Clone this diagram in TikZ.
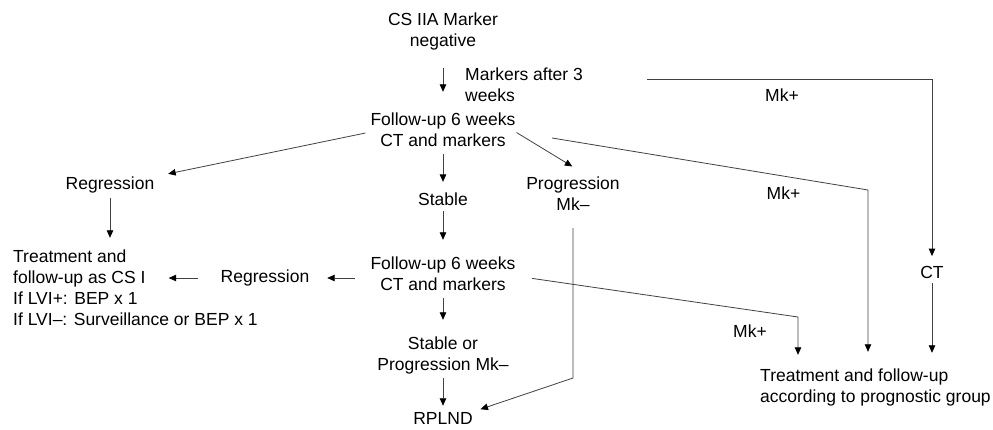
\documentclass[tikz,border=0pt]{standalone}
\usepackage{fontspec}
\setmainfont{Liberation Sans}
\usetikzlibrary{arrows.meta}

\begin{document}
\begin{tikzpicture}[x=1pt, y=-1pt, font=\fontsize{17.5}{21}\selectfont,
		every node/.style={inner sep=0pt},
		line/.style={draw=black!75, line width=0.8pt},
		arr/.style={line, -{Triangle[length=7.5pt, width=6.5pt, color=black]}}]
		
		\useasboundingbox (0,0) rectangle (993,429);
		
		\node (cs) at (443,32) {\begin{tabular}{@{}c@{}} CS IIA Marker \\ negative \end{tabular}};
		\node (mk3) at (465,86.5) [anchor=west] {\begin{tabular}{@{}l@{}} Markers after 3 \\ weeks \end{tabular}};
		\node (fu1) at (443,132) {\begin{tabular}{@{}c@{}} Follow-up 6 weeks \\ CT and markers \end{tabular}};
		\node (reg1) at (110,185) {Regression};
		\node (stable) at (443,199) {Stable};
		\node (prog) at (573,196) {\begin{tabular}{@{}c@{}} Progression \\ Mk– \end{tabular}};
		\node (trt) at (13,269) [anchor=west] {\begin{tabular}{@{}l@{}} Treatment and \\ follow-up as CS I \end{tabular}};
		\node (lvi) at (13,311) [anchor=west] {\begin{tabular}{@{}l@{}} If LVI+: BEP x 1 \\ If LVI–: Surveillance or BEP x 1 \end{tabular}};
		\node (reg2) at (265,278) {Regression};
		\node (fu2) at (443,276) {\begin{tabular}{@{}c@{}} Follow-up 6 weeks \\ CT and markers \end{tabular}};
		\node (sbl) at (443,356) {\begin{tabular}{@{}c@{}} Stable or \\ Progression Mk– \end{tabular}};
		\node (rpl) at (443,418) {RPLND};
		\node (ct) at (932,272) {CT};
		\node (tx) at (760,388) [anchor=west] {\begin{tabular}{@{}l@{}} Treatment and follow-up \\ according to prognostic group \end{tabular}};
		
		\coordinate (c1) at (868,190);
		\coordinate (c2) at (932,79);
		\coordinate (c3) at (573,378);
		\coordinate (c4) at (798,317);
		
		\draw[arr, shorten <=15pt, shorten >=19pt] (cs) -- (fu1);
		\draw[arr, shorten <=5pt, shorten >=14pt] (fu1.west) -- (reg1.north east);
		\draw[arr, shorten <=1pt, shorten >=16pt] (fu1.east) -- ([xshift=13pt]prog.north);
		\draw[arr, shorten <=1pt, shorten >=10.5pt] (fu1) -- (stable);
		\draw[arr, shorten <=4.5pt, shorten >=10pt] (reg1.south) -- (reg1.south |- trt.north);
		\draw[arr, shorten <=5.5pt, shorten >=15pt] (stable) -- (fu2);
		\draw[arr, shorten <=15.5pt, shorten >=17.75pt] (fu2.west |- reg2) -- (reg2.east);
		\draw[arr, shorten <=22.75pt, shorten >=23pt] (reg2.west) -- (reg2.west -| trt.east);
		\draw[arr, shorten <=1pt, shorten >=15pt] (fu2) -- (sbl);
		\draw[arr, shorten <=1pt, shorten >=6pt] (sbl) -- (rpl);
		\draw[arr, shorten <=11pt, shorten >=8pt] (prog.south) -- (c3) -- (rpl.north east);
		
		\draw[arr, shorten <=64pt, shorten >=9.5pt]
		(mk3.east |- c2) -- node[pos=.57, below=9.5pt] (mkA) {Mk+} (c2) -- (ct);
		\draw[arr, shorten <=37pt, shorten >=15pt]
		(fu1.east) -- node[pos=.76, below=10.5pt] (mkB) {Mk+} (c1) -- (c1 |- tx.north);
		\draw[arr, shorten <=16.7pt, shorten >=12pt]
		(fu2.east) -- node[pos=.83, below=14.5pt] (mkC) {Mk+} (c4) -- (c4 |- tx.north);
		\draw[arr, shorten <=4.5pt, shorten >=14pt] (ct) -- (ct |- tx.north);
	\end{tikzpicture}
\end{document}
